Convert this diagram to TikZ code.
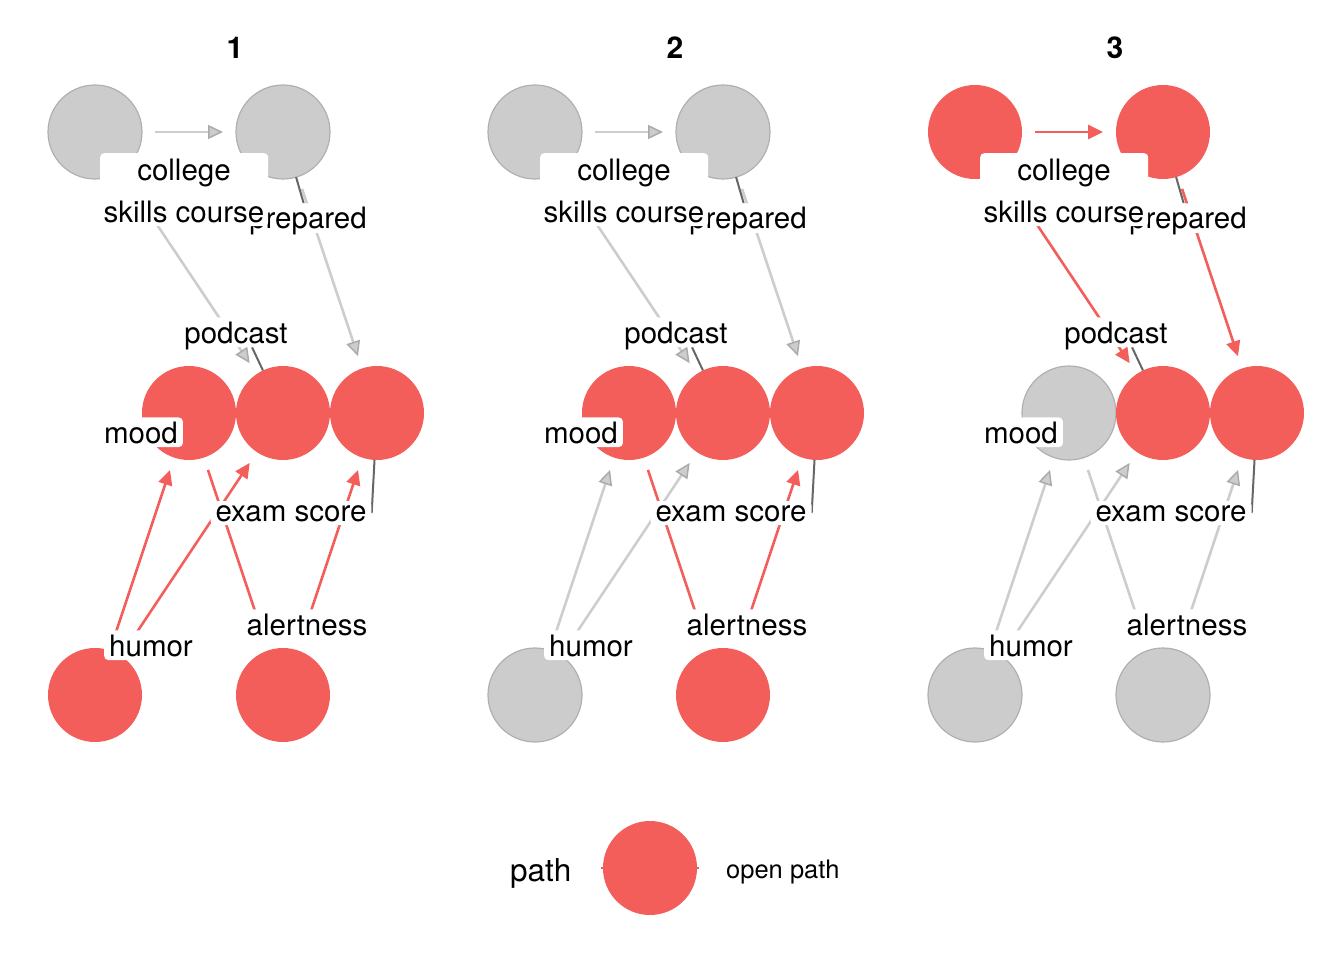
\documentclass[tikz,border=0pt]{standalone}
\usepackage{fontspec}
\setmainfont{TeX Gyre Heros}
\usetikzlibrary{arrows.meta}
\definecolor{dred}{HTML}{F35E5A}
\definecolor{ngray}{HTML}{CCCCCC}
\definecolor{nborder}{HTML}{B0B0B0}
\definecolor{egray}{HTML}{CDCDCD}
\definecolor{egraydark}{HTML}{ABABAB}
\definecolor{segc}{HTML}{666666}
\pgfdeclarelayer{edges}
\pgfdeclarelayer{labels}
\pgfsetlayers{edges,main,labels}
\tikzset{
  dnode/.style={circle, minimum size=94pt, inner sep=0pt, outer sep=0pt},
  gnode/.style={dnode, fill=ngray, draw=nborder, line width=1.2pt},
  rnode/.style={dnode, fill=dred},
  baseedge/.style={line width=2.6pt, shorten <=13pt, shorten >=13pt},
  gedge/.style={baseedge, draw=egray, -{Triangle[length=15pt,width=14pt,line width=1.5pt,color=egraydark,fill=egray]}},
  redge/.style={baseedge, draw=dred, -{Triangle[length=15pt,width=14pt]}},
  lab/.style={fill=white, rounded corners=4pt, inner xsep=5pt, inner ysep=4pt, text depth=0pt, font=\fontsize{29.5}{35}\selectfont, anchor=base},
  labbox/.style={fill=white, rounded corners=4pt, inner sep=0pt},
  labtxt/.style={inner sep=0pt, font=\fontsize{29.5}{35}\selectfont, anchor=base},
  seg/.style={draw=segc, line width=2pt},
  ptitle/.style={font=\fontsize{30}{36}\selectfont\bfseries, anchor=base, inner sep=0pt},
}
\newcommand\dagpanel[2]{%
  \node[ptitle] (#2t) at (235,59) {#1};
  \node[nC] (#2C) at (95,132) {};
  \node[nP] (#2P) at (283,132) {};
  \node[nM] (#2M) at (189,413) {};
  \node[nPod] (#2Pod) at (283,413) {};
  \node[nE] (#2E) at (377,413) {};
  \node[nH] (#2H) at (95,695) {};
  \node[nA] (#2A) at (283,695) {};
  \begin{pgfonlayer}{edges}
    \draw[eCP] (#2C) -- (#2P);
    \draw[eCPod] (#2C) -- (#2Pod);
    \draw[ePE] (#2P) -- (#2E);
    \draw[eHM] (#2H) -- (#2M);
    \draw[eHPod] (#2H) -- (#2Pod);
    \draw[eMA] (#2M) -- (#2A);
    \draw[eAE] (#2A) -- (#2E);
  \end{pgfonlayer}
  \begin{pgfonlayer}{labels}
    \node[lab] (#2lp) at (308,229) {prepared};
    \node[labbox, minimum width=168pt, minimum height=73pt, anchor=north west] (#2lc) at (100,153) {};
    \node[labtxt] (#2lca) at (184,181) {college};
    \node[labtxt] (#2lcb) at (184,223) {skills course};
    \node[lab] (#2lpod) at (236,343) {podcast};
    \node[lab] (#2lm) at (141,443) {mood};
    \node[lab] (#2le) at (291,521) {exam score};
    \node[lab] (#2lh) at (151,656) {humor};
    \node[lab] (#2la) at (307,635) {alertness};
  \end{pgfonlayer}
  \draw[seg] (#2P) -- (#2lp);
  \draw[seg] (#2Pod) -- ([xshift=16pt]#2lpod.south);
  \draw[seg] (#2E) -- (#2le.east);
}
\begin{document}
\begin{tikzpicture}[x=1pt, y=-1pt]
  \useasboundingbox (0,0) rectangle (1344,960);
  \begin{scope}[nC/.style=gnode, nP/.style=gnode, nM/.style=rnode, nPod/.style=rnode, nE/.style=rnode, nH/.style=rnode, nA/.style=rnode,
      eCP/.style=gedge, eCPod/.style=gedge, ePE/.style=gedge, eHM/.style=redge, eHPod/.style=redge, eMA/.style=redge, eAE/.style=redge]
    \dagpanel{1}{a}
  \end{scope}
  \begin{scope}[xshift=440pt, nC/.style=gnode, nP/.style=gnode, nM/.style=rnode, nPod/.style=rnode, nE/.style=rnode, nH/.style=gnode, nA/.style=rnode,
      eCP/.style=gedge, eCPod/.style=gedge, ePE/.style=gedge, eHM/.style=gedge, eHPod/.style=gedge, eMA/.style=redge, eAE/.style=redge]
    \dagpanel{2}{b}
  \end{scope}
  \begin{scope}[xshift=880pt, nC/.style=rnode, nP/.style=rnode, nM/.style=gnode, nPod/.style=rnode, nE/.style=rnode, nH/.style=gnode, nA/.style=gnode,
      eCP/.style=redge, eCPod/.style=redge, ePE/.style=redge, eHM/.style=gedge, eHPod/.style=gedge, eMA/.style=gedge, eAE/.style=gedge]
    \dagpanel{3}{c}
  \end{scope}
  % legend
  \coordinate (legL) at (601,868);
  \coordinate (legR) at (699,868);
  \draw[draw=dred, line width=2.6pt] (legL) -- (legR);
  \node[rnode] (legdot) at (650,868) {};
  \node[anchor=base west, inner sep=0pt, font=\fontsize{31.5}{36}\selectfont] (legtitle) at (510,881) {path};
  \node[anchor=base west, inner sep=0pt, font=\fontsize{25.5}{30}\selectfont] (legitem) at (726,878) {open path};
\end{tikzpicture}
\end{document}
